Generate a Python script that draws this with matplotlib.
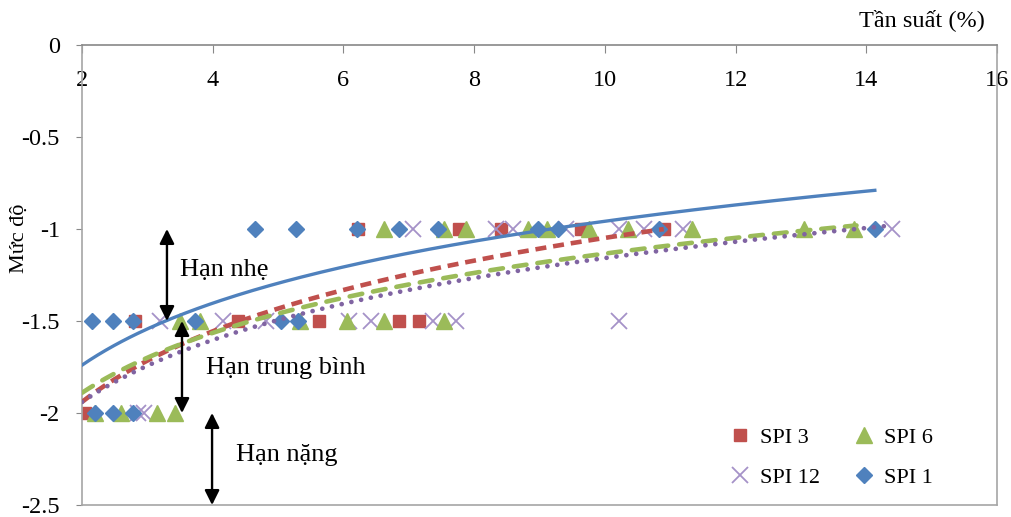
import numpy as np
import matplotlib
matplotlib.use('Agg')
import matplotlib.pyplot as plt
from matplotlib.ticker import FuncFormatter

plt.rcParams['font.family'] = ['Liberation Serif', 'DejaVu Serif']
plt.rcParams['axes.unicode_minus'] = False

# values (x = frequency %, y = drought level)
spi1_x = [2.2, 2.48, 2.78, 2.15, 2.48, 2.78, 3.73, 5.04, 5.30,
          4.65, 5.27, 6.20, 6.85, 7.44, 8.98, 9.29, 10.83, 14.13]
spi1_y = [-2, -2, -2, -1.5, -1.5, -1.5, -1.5, -1.5, -1.5,
          -1, -1, -1, -1, -1, -1, -1, -1, -1]

spi3_x = [2.05, 2.81, 4.38, 5.62, 6.85, 7.15,
          6.23, 7.77, 8.41, 9.64, 10.9]
spi3_y = [-2, -1.5, -1.5, -1.5, -1.5, -1.5,
          -1, -1, -1, -1, -1]

spi6_x = [2.2, 2.6, 3.15, 3.43, 3.50, 3.81, 5.34, 6.05, 6.62, 7.54,
          6.62, 7.54, 7.87, 8.83, 9.12, 9.75, 10.35, 11.33, 13.05, 13.81]
spi6_y = [-2, -2, -2, -2, -1.5, -1.5, -1.5, -1.5, -1.5, -1.5,
          -1, -1, -1, -1, -1, -1, -1, -1, -1, -1]

spi12_x = [2.85, 2.95, 3.20, 4.16, 4.81, 6.08, 6.42, 7.37, 7.72, 10.22,
           7.06, 8.33, 8.60, 9.41, 10.22, 10.6, 11.19, 14.39]
spi12_y = [-2, -2, -1.5, -1.5, -1.5, -1.5, -1.5, -1.5, -1.5, -1.5,
           -1, -1, -1, -1, -1, -1, -1, -1]

# log trendlines as drawn in the chart: y = a*ln(x) + b, from x=2 to x_end
trend_a = {'SPI 1': 0.486, 'SPI 3': 0.554, 'SPI 6': 0.470, 'SPI 12': 0.486}
trend_b = {'SPI 1': -2.077, 'SPI 3': -2.324, 'SPI 6': -2.216, 'SPI 12': -2.277}
trend_end = {'SPI 1': 14.13, 'SPI 3': 10.9, 'SPI 6': 13.85, 'SPI 12': 14.4}

x_ticks = [2, 4, 6, 8, 10, 12, 14, 16]
y_ticks = [0, -0.5, -1, -1.5, -2, -2.5]

red = '#C0504D'
green = '#9BBB59'
purple = '#8064A2'
blue = '#4F81BD'

fig = plt.figure(figsize=(10.11, 5.17), dpi=100)
ax = fig.add_axes([0.0811, 0.0232, 0.9051, 0.8898])

ax.plot(spi3_x, spi3_y, 's', color=red, ms=8, mec=red, label='SPI 3', zorder=2)
ax.plot(spi12_x, spi12_y, 'x', color='#A592C8', ms=11, mew=1.3, label='SPI 12', zorder=2)
ax.plot(spi6_x, spi6_y, '^', color=green, ms=11, mec=green, label='SPI 6', zorder=2)
ax.plot(spi1_x, spi1_y, 'D', color=blue, ms=8, mec=blue, label='SPI 1', zorder=2)


def trend(name):
    xx = np.linspace(2, trend_end[name], 200)
    return xx, trend_a[name] * np.log(xx) + trend_b[name]


xx, yy = trend('SPI 1')
ax.plot(xx, yy, '-', color=blue, lw=2.4, zorder=3)
xx, yy = trend('SPI 3')
ax.plot(xx, yy, color=red, lw=3.3, dashes=(2.4, 1.5), zorder=3)
xx, yy = trend('SPI 6')
ax.plot(xx, yy, color=green, lw=3.3, dashes=(2.8, 2.4), dash_capstyle='round', zorder=3)
xx, yy = trend('SPI 12')
ax.plot(xx, yy, color=purple, lw=3.4, dashes=(0.01, 2.1), dash_capstyle='round', zorder=3)

ax.set_xlim(2, 16)
ax.set_ylim(-2.5, 0)
ax.set_xticks(x_ticks)
ax.set_yticks(y_ticks)
ax.yaxis.set_major_formatter(FuncFormatter(lambda v, p: '%g' % v))

ax.tick_params(axis='x', top=True, bottom=False, labeltop=True, labelbottom=False,
               direction='in', length=6, color='#888888', pad=-33, labelsize=17.5)
ax.tick_params(axis='y', direction='out', length=4, color='#888888', labelsize=17.5, pad=12)
for s in ax.spines.values():
    s.set_color('#A6A6A6')
    s.set_linewidth(1.2)
ax.spines['top'].set_color('#888888')

ax.set_ylabel('Mức độ', fontsize=16)
ax.yaxis.set_label_coords(-0.058, 0.58)
fig.text(0.974, 0.961, 'Tần suất (%)', ha='right', va='center', fontsize=17.5)

arrow = dict(arrowstyle='<|-|>', color='black', lw=1.7, mutation_scale=22,
             shrinkA=0, shrinkB=0)
ax.annotate('', xy=(3.30, -1.0), xytext=(3.30, -1.5), arrowprops=arrow)
ax.annotate('', xy=(3.53, -1.5), xytext=(3.53, -2.0), arrowprops=arrow)
ax.annotate('', xy=(3.99, -2.0), xytext=(3.99, -2.5), arrowprops=arrow, annotation_clip=False)

ax.text(3.50, -1.223, 'Hạn nhẹ', fontsize=19, va='center')
ax.text(3.89, -1.755, 'Hạn trung bình', fontsize=19, va='center')
ax.text(4.35, -2.228, 'Hạn nặng', fontsize=19, va='center')

handles, labels = ax.get_legend_handles_labels()
ax.legend(handles, labels, ncol=2, frameon=False, fontsize=16,
          loc='upper left', bbox_to_anchor=(0.714, 0.19), bbox_transform=fig.transFigure,
          borderaxespad=0, handlelength=0.8, handletextpad=0.5, columnspacing=1.6,
          labelspacing=0.85)

fig.savefig('out.png', dpi=100)
